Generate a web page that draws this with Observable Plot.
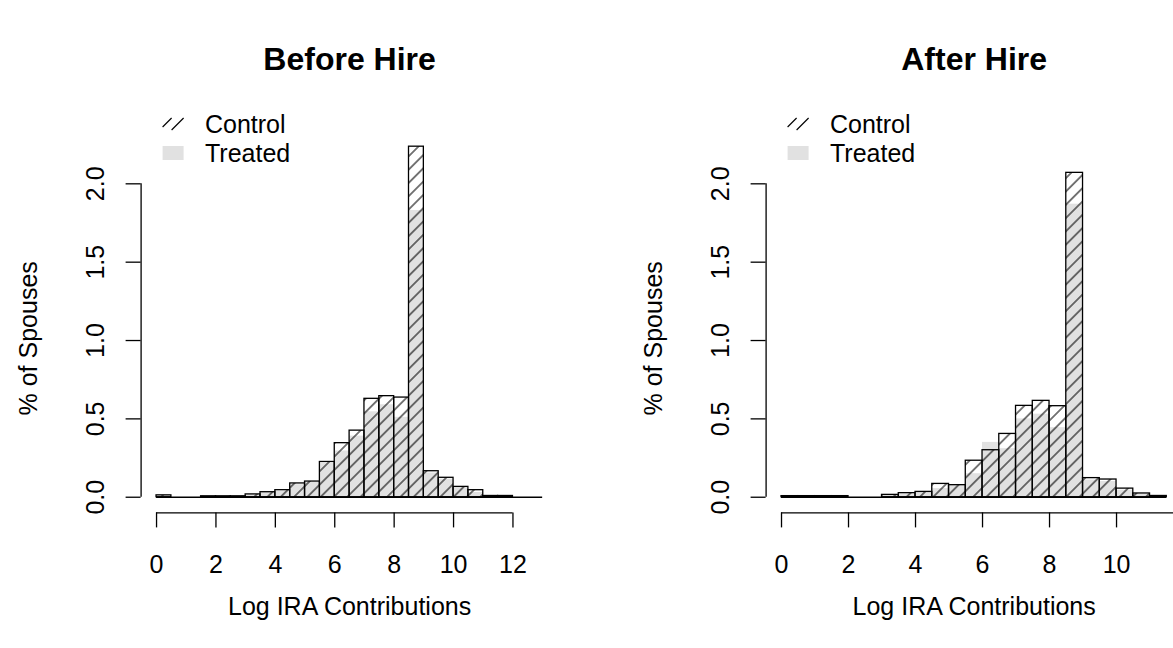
<!DOCTYPE html>
<html>
<head>
<meta charset="utf-8">
<script src="https://cdn.jsdelivr.net/npm/d3@7"></script>
<script src="https://cdn.jsdelivr.net/npm/@observablehq/plot@0.6"></script>
<style>
  html, body { margin: 0; padding: 0; background: #fff; }
  #fig { position: relative; width: 1173px; height: 648px; overflow: hidden;
         font-family: "Liberation Sans", Arial, Helvetica, sans-serif; }
  #fig svg.panel { position: absolute; top: 0; }
</style>
</head>
<body>
<div id="fig"></div>
<script>
// Histogram bins are 0.5 wide on the log scale; each array holds left bin edges.
const binWidth = 0.5;

// Before hire
const beforeBins = [0, 0.5, 1, 1.5, 2, 2.5, 3, 3.5, 4, 4.5, 5, 5.5, 6, 6.5, 7, 7.5, 8, 8.5, 9, 9.5, 10, 10.5, 11, 11.5, 12, 12.5];
const beforeControl = [0.012, 0, 0, 0.006, 0.006, 0.006, 0.018, 0.032, 0.045, 0.088, 0.100, 0.225, 0.345, 0.425, 0.628, 0.645, 0.636, 2.237, 0.166, 0.124, 0.066, 0.045, 0.008, 0.008, 0, 0];
const beforeTreated = [0.010, 0, 0, 0.005, 0.005, 0.005, 0.015, 0.028, 0.038, 0.080, 0.095, 0.215, 0.295, 0.390, 0.545, 0.590, 0.510, 1.830, 0.155, 0.115, 0.060, 0.030, 0.008, 0.005, 0, 0];

// After hire
const afterBins = [0, 0.5, 1, 1.5, 2, 2.5, 3, 3.5, 4, 4.5, 5, 5.5, 6, 6.5, 7, 7.5, 8, 8.5, 9, 9.5, 10, 10.5, 11];
const afterControl = [0.007, 0.007, 0.007, 0.007, 0, 0, 0.015, 0.026, 0.034, 0.085, 0.077, 0.233, 0.300, 0.404, 0.583, 0.615, 0.581, 2.070, 0.122, 0.113, 0.055, 0.024, 0.008];
const afterTreated = [0.007, 0.007, 0.007, 0.007, 0, 0, 0.012, 0.020, 0.030, 0.055, 0.078, 0.150, 0.350, 0.310, 0.500, 0.530, 0.444, 1.870, 0.110, 0.100, 0.045, 0.020, 0.008];

// Axis ticks and labels
const yTicks = [0, 0.5, 1, 1.5, 2];
const beforeXTicks = [0, 2, 4, 6, 8, 10, 12];
const afterXTicks = [0, 2, 4, 6, 8, 10];
const xLabel = "Log IRA Contributions";
const yLabel = "% of Spouses";
const seriesNames = ["Control", "Treated"];

const FONT = '"Liberation Sans", Arial, Helvetica, sans-serif';
const FS = 25;
const H = 648;
const frameTop = 89.3, frameBottom = 512.4;
const grayFill = "#e1e1e1";

function panel({title, bins, control, treated, xDomain, xTicks, axisEnd, left, width, marginLeft, marginRight, id}) {
  const rows = bins.map((b, i) => ({x1: b, x2: b + binWidth, control: control[i], treated: treated[i]}));
  const lastEdge = bins[bins.length - 1] + binWidth;
  const svg = Plot.plot({
    width, height: H,
    marginLeft, marginRight, marginTop: frameTop, marginBottom: H - frameBottom,
    x: {domain: xDomain, axis: null},
    y: {domain: [-0.1, 2.6], axis: null},
    style: {fontFamily: FONT, fontSize: FS + "px", color: "#000", background: "transparent", overflow: "visible"},
    marks: [
      // treated: solid light gray, no outline
      Plot.rectY(rows, {x1: "x1", x2: "x2", y: "treated", fill: grayFill}),
      // control: hatched, outlined
      Plot.rectY(rows, {x1: "x1", x2: "x2", y: "control", fill: `url(#${id})`, stroke: "#000", strokeWidth: 1.3}),
      Plot.ruleY([0], {x1: bins[0], x2: lastEdge, stroke: "#000", strokeWidth: 1.3}),
      // x axis
      Plot.ruleY([-0.1], {x1: xTicks[0], x2: axisEnd, stroke: "#000", strokeWidth: 1.3}),
      Plot.axisX({ticks: xTicks, tickSize: 15, tickPadding: 27.6, label: null, strokeWidth: 1.3, fontSize: FS}),
      // y axis
      Plot.ruleX([xDomain[0]], {y1: yTicks[0], y2: yTicks[yTicks.length - 1], stroke: "#000", strokeWidth: 1.3}),
      Plot.axisY({ticks: yTicks, tickSize: 15, tickFormat: () => "", label: null, strokeWidth: 1.3}),
      Plot.text(yTicks, {x: () => xDomain[0], y: d => d, text: d => d.toFixed(1), rotate: -90,
                         dx: -45.6, fontSize: FS, textAnchor: "middle", lineAnchor: "middle"}),
      // titles
      Plot.text([title], {frameAnchor: "top", dy: -30.3, fontSize: 32, fontWeight: "bold",
                          textAnchor: "middle", lineAnchor: "middle"}),
      Plot.text([xLabel], {frameAnchor: "bottom", dy: 93.6, fontSize: FS,
                           textAnchor: "middle", lineAnchor: "middle"}),
      Plot.text([yLabel], {frameAnchor: "left", dx: -112.6, dy: 37, rotate: -90, fontSize: FS,
                           textAnchor: "middle", lineAnchor: "middle"})
    ]
  });
  svg.classList.add("panel");
  svg.style.left = left + "px";

  // hatch pattern used by the control bars and the legend key
  const s = d3.select(svg);
  const defs = s.insert("defs", ":first-child");
  const pat = defs.append("pattern")
    .attr("id", id)
    .attr("patternUnits", "userSpaceOnUse")
    .attr("width", 9.4).attr("height", 9.4)
    .attr("patternTransform", "rotate(-45)");
  pat.append("line")
    .attr("x1", 0).attr("y1", 4.7).attr("x2", 9.4).attr("y2", 4.7)
    .attr("stroke", "#000").attr("stroke-width", 1.05);

  // legend in the top-left corner of the plotting region
  const lg = s.append("g").attr("transform", `translate(${marginLeft},0)`);
  const key = lg.append("g").attr("stroke", "#000").attr("stroke-width", 1.1);
  key.append("line").attr("x1", 22).attr("y1", 127).attr("x2", 31).attr("y2", 118);
  key.append("line").attr("x1", 31).attr("y1", 130).attr("x2", 43).attr("y2", 118);
  lg.append("rect").attr("x", 22).attr("y", 146).attr("width", 21).attr("height", 14)
    .attr("fill", grayFill);
  lg.selectAll("text.key").data(seriesNames).join("text")
    .attr("class", "key")
    .attr("x", 64.4).attr("y", (d, i) => 133 + i * 29)
    .attr("text-anchor", "start")
    .attr("font-size", FS).attr("font-family", FONT).attr("fill", "#000")
    .text(d => d);

  return svg;
}

const fig = document.getElementById("fig");
fig.appendChild(panel({
  title: "Before Hire", bins: beforeBins, control: beforeControl, treated: beforeTreated,
  xDomain: [-0.52, 13.52], xTicks: beforeXTicks, axisEnd: 12,
  left: 0, width: 586, marginLeft: 140.6, marginRight: 28.4, id: "hatch-before"
}));
fig.appendChild(panel({
  title: "After Hire", bins: afterBins, control: afterControl, treated: afterTreated,
  xDomain: [-0.46, 11.96], xTicks: afterXTicks, axisEnd: 12,
  left: 586, width: 600, marginLeft: 179.6, marginRight: 4.3, id: "hatch-after"
}));
</script>
</body>
</html>
